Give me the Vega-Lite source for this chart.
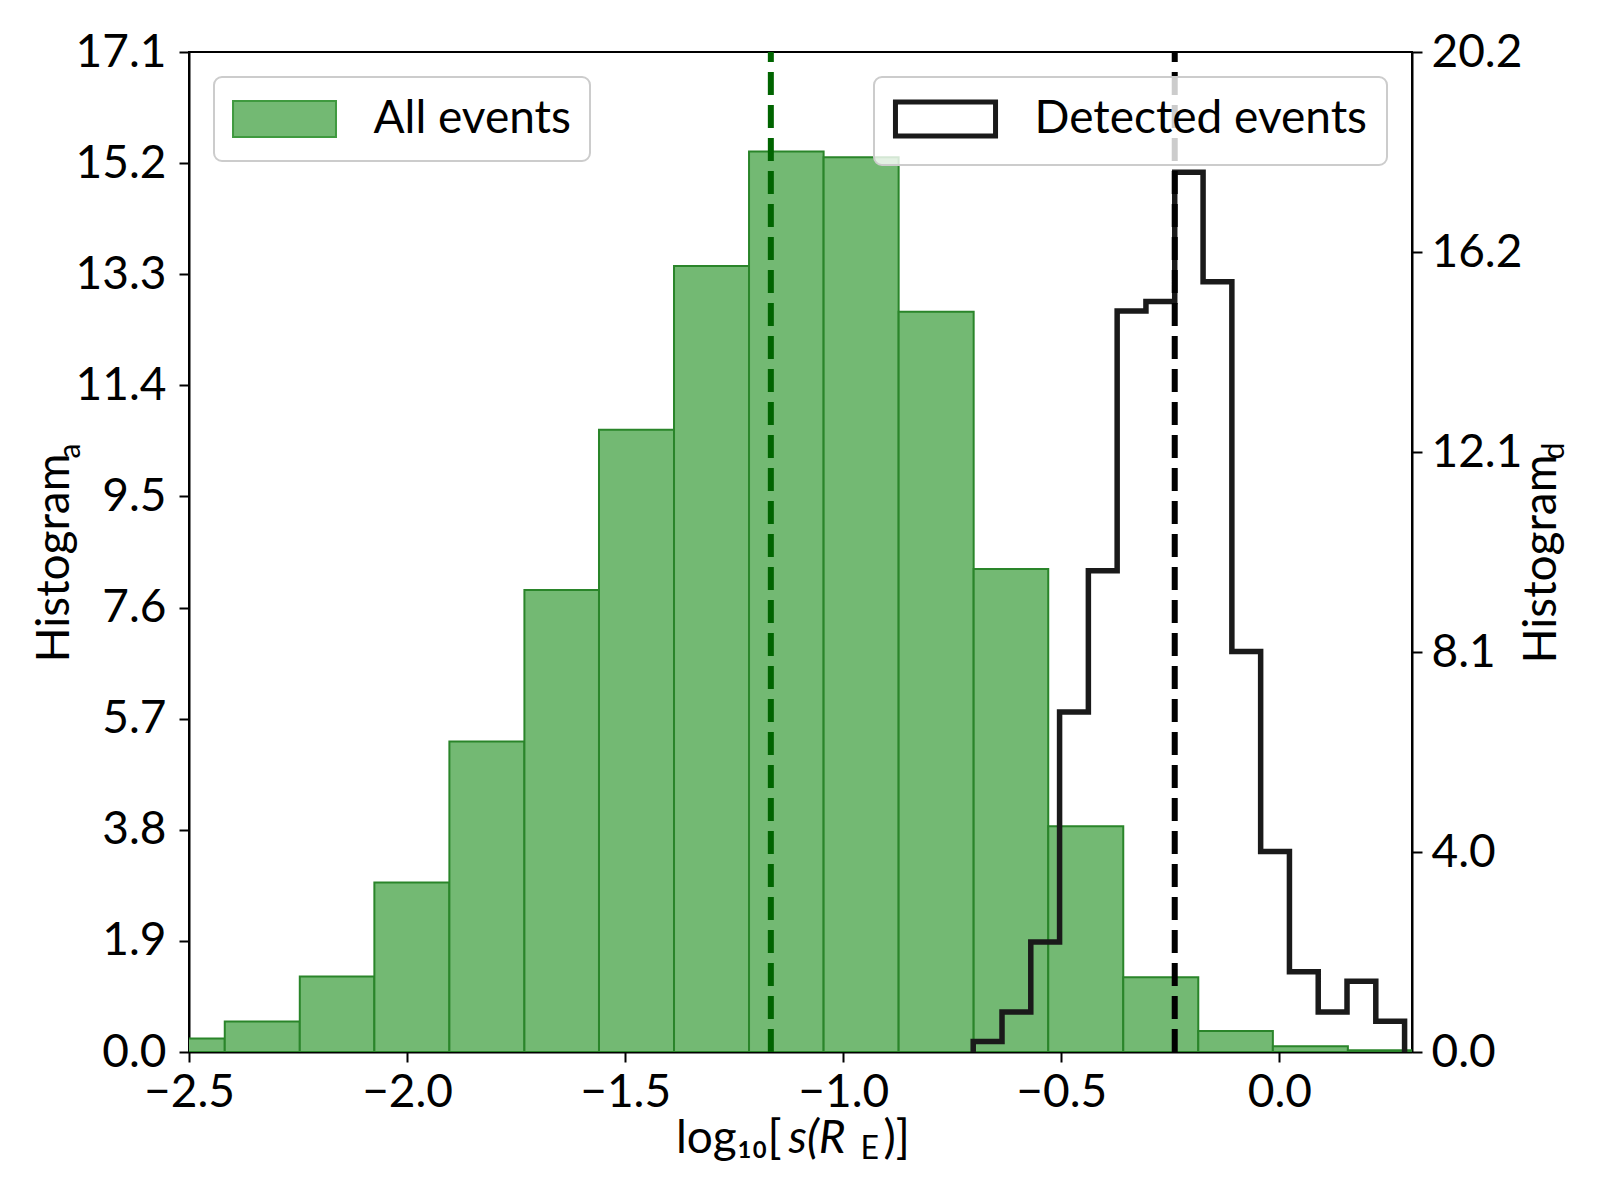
{
  "$schema": "https://vega.github.io/schema/vega-lite/v6.json",
  "width": 1223,
  "height": 1000,
  "autosize": {"type": "none"},
  "padding": {"left": 189, "top": 52, "right": 188, "bottom": 148},
  "background": "white",
  "datasets": {
    "all_events": [
      {"lo": -2.590, "hi": -2.418, "n": 0.23},
      {"lo": -2.418, "hi": -2.246, "n": 0.52},
      {"lo": -2.246, "hi": -2.075, "n": 1.29},
      {"lo": -2.075, "hi": -1.903, "n": 2.90},
      {"lo": -1.903, "hi": -1.731, "n": 5.31},
      {"lo": -1.731, "hi": -1.560, "n": 7.90},
      {"lo": -1.560, "hi": -1.388, "n": 10.64},
      {"lo": -1.388, "hi": -1.216, "n": 13.44},
      {"lo": -1.216, "hi": -1.045, "n": 15.40},
      {"lo": -1.045, "hi": -0.873, "n": 15.30},
      {"lo": -0.873, "hi": -0.701, "n": 12.66},
      {"lo": -0.701, "hi": -0.530, "n": 8.26},
      {"lo": -0.530, "hi": -0.358, "n": 3.86},
      {"lo": -0.358, "hi": -0.186, "n": 1.28},
      {"lo": -0.186, "hi": -0.015, "n": 0.36},
      {"lo": -0.015, "hi": 0.157, "n": 0.10},
      {"lo": 0.157, "hi": 0.329, "n": 0.03}
    ],
    "detected": [
      {"i": 0, "x": -0.702, "n": 0},
      {"i": 1, "x": -0.702, "n": 0.21},
      {"i": 2, "x": -0.636, "n": 0.81},
      {"i": 3, "x": -0.570, "n": 2.22},
      {"i": 4, "x": -0.504, "n": 6.87},
      {"i": 5, "x": -0.438, "n": 9.72},
      {"i": 6, "x": -0.372, "n": 14.97},
      {"i": 7, "x": -0.306, "n": 15.16},
      {"i": 8, "x": -0.240, "n": 17.77},
      {"i": 9, "x": -0.175, "n": 15.56},
      {"i": 10, "x": -0.109, "n": 8.09},
      {"i": 11, "x": -0.043, "n": 4.05},
      {"i": 12, "x": 0.023, "n": 1.62},
      {"i": 13, "x": 0.089, "n": 0.81},
      {"i": 14, "x": 0.155, "n": 1.43},
      {"i": 15, "x": 0.221, "n": 0.62},
      {"i": 16, "x": 0.287, "n": 0}
    ],
    "mean_all": [{"m": -1.166}],
    "mean_det": [{"m": -0.240}]
  },
  "layer": [
    {
      "data": {"name": "all_events"},
      "mark": {"type": "rect", "clip": true, "stroke": "#2a852a", "strokeWidth": 2},
      "encoding": {
        "x": {
          "field": "lo",
          "type": "quantitative",
          "scale": {"domain": [-2.5, 0.304], "nice": false, "zero": false},
          "axis": {
            "orient": "bottom",
            "values": [-2.5, -2, -1.5, -1, -0.5, 0],
            "format": ".1f",
            "labelPadding": 8,
            "title": "log₁₀[",
            "titleX": 592,
            "titleY": 100,
            "titleAlign": "right",
            "titleBaseline": "alphabetic"
          }
        },
        "x2": {"field": "hi"},
        "y": {
          "field": "n",
          "type": "quantitative",
          "scale": {"domain": [0, 17.1], "nice": false},
          "axis": {
            "orient": "left",
            "values": [0, 1.9, 3.8, 5.7, 7.6, 9.5, 11.4, 13.3, 15.2, 17.1],
            "format": ".1f",
            "labelPadding": 13,
            "title": "Histogram",
            "titleAngle": 270,
            "titleX": -121,
            "titleY": 610,
            "titleAlign": "left",
            "titleBaseline": "alphabetic"
          }
        },
        "y2": {"datum": 0},
        "fill": {
          "datum": "All events",
          "type": "nominal",
          "scale": {"domain": ["All events"], "range": ["#73b973"]},
          "legend": {
            "orient": "top-left",
            "offset": 25,
            "title": null,
            "symbolType": "M-2.86,-1H2.86V1H-2.86Z",
            "symbolSize": 1296,
            "symbolOffset": 28.5,
            "symbolStrokeColor": "#3f9a3f",
            "symbolStrokeWidth": 2,
            "symbolOpacity": 1,
            "labelOffset": 66
          }
        }
      }
    },
    {
      "data": {"name": "detected"},
      "mark": {"type": "line", "interpolate": "step-after", "strokeWidth": 5.5, "strokeJoin": "miter", "strokeCap": "butt"},
      "encoding": {
        "x": {
          "field": "x",
          "type": "quantitative",
          "scale": {"domain": [-2.5, 0.304], "nice": false, "zero": false},
          "axis": {
            "orient": "bottom",
            "labels": false,
            "ticks": false,
            "domain": false,
            "title": "s(R",
            "titleFontStyle": "italic",
            "titleX": 599,
            "titleY": 100,
            "titleAlign": "left",
            "titleBaseline": "alphabetic"
          }
        },
        "y": {
          "field": "n",
          "type": "quantitative",
          "scale": {"domain": [0, 20.2], "nice": false},
          "axis": {
            "orient": "right",
            "values": [0, 4.04, 8.08, 12.12, 16.16, 20.2],
            "format": ".1f",
            "labelPadding": 9,
            "title": "Histogram",
            "titleAngle": 270,
            "titleX": 143,
            "titleY": 611,
            "titleAlign": "left",
            "titleBaseline": "alphabetic"
          }
        },
        "order": {"field": "i"},
        "stroke": {
          "datum": "Detected events",
          "type": "nominal",
          "scale": {"domain": ["Detected events"], "range": ["#1a1a1a"]},
          "legend": {
            "orient": "top-right",
            "offset": 25,
            "title": null,
            "symbolType": "M-2.78,-0.944H2.78V0.944H-2.78Z",
            "symbolSize": 1296,
            "symbolOffset": 29.5,
            "symbolFillColor": "transparent",
            "symbolStrokeColor": "#1a1a1a",
            "symbolStrokeWidth": 5,
            "symbolOpacity": 1,
            "labelOffset": 66
          }
        }
      }
    },
    {
      "data": {"name": "mean_all"},
      "mark": {"type": "rule", "color": "#006400", "strokeWidth": 6, "strokeDash": [23, 10]},
      "encoding": {
        "x": {
          "field": "m",
          "type": "quantitative",
          "scale": {"domain": [-2.5, 0.304], "nice": false, "zero": false},
          "axis": {
            "orient": "bottom",
            "labels": false,
            "ticks": false,
            "domain": false,
            "title": "E",
            "titleFontSize": 32,
            "titleX": 671,
            "titleY": 106,
            "titleAlign": "left",
            "titleBaseline": "alphabetic"
          }
        },
        "y": {
          "datum": 0,
          "type": "quantitative",
          "scale": {"domain": [0, 1], "nice": false},
          "axis": {
            "orient": "left",
            "labels": false,
            "ticks": false,
            "domain": false,
            "title": "a",
            "titleFontSize": 30,
            "titleAngle": 270,
            "titleX": -110,
            "titleY": 406,
            "titleAlign": "left",
            "titleBaseline": "alphabetic"
          }
        },
        "y2": {"datum": 1}
      }
    },
    {
      "data": {"name": "mean_det"},
      "mark": {"type": "rule", "color": "black", "strokeWidth": 6, "strokeDash": [23, 10]},
      "encoding": {
        "x": {
          "field": "m",
          "type": "quantitative",
          "scale": {"domain": [-2.5, 0.304], "nice": false, "zero": false},
          "axis": {
            "orient": "bottom",
            "labels": false,
            "ticks": false,
            "domain": false,
            "title": ")]",
            "titleX": 694,
            "titleY": 100,
            "titleAlign": "left",
            "titleBaseline": "alphabetic"
          }
        },
        "y": {
          "datum": 0,
          "type": "quantitative",
          "scale": {"domain": [0, 1], "nice": false},
          "axis": {
            "orient": "right",
            "labels": false,
            "ticks": false,
            "domain": false,
            "title": "d",
            "titleFontSize": 30,
            "titleAngle": 270,
            "titleX": 151,
            "titleY": 407,
            "titleAlign": "left",
            "titleBaseline": "alphabetic"
          }
        },
        "y2": {"datum": 1}
      }
    }
  ],
  "resolve": {
    "scale": {"y": "independent"},
    "axis": {"x": "independent", "y": "independent"}
  },
  "config": {
    "font": "Lato",
    "view": {"stroke": "black", "strokeWidth": 2},
    "axis": {
      "grid": false,
      "domainColor": "black",
      "domainWidth": 2,
      "tickColor": "black",
      "tickWidth": 2,
      "tickSize": 10,
      "labelFont": "Lato",
      "labelFontSize": 46,
      "labelColor": "black",
      "labelFlush": false,
      "labelOverlap": false,
      "titleFont": "Lato",
      "titleFontSize": 46,
      "titleFontWeight": "normal",
      "titleColor": "black",
      "zindex": 1
    },
    "legend": {
      "labelFont": "Lato",
      "labelFontSize": 46,
      "labelColor": "black",
      "labelLimit": 800,
      "padding": 19,
      "strokeColor": "#cccccc",
      "strokeWidth": 2,
      "cornerRadius": 8,
      "fillColor": "rgba(255,255,255,0.8)"
    }
  }
}
